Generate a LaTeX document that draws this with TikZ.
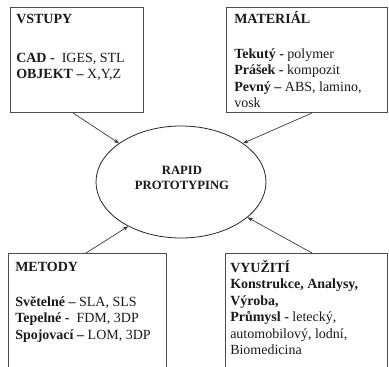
\documentclass[tikz,border=0pt]{standalone}
\usepackage{fontspec}
\setmainfont{Liberation Serif}
\usetikzlibrary{shapes.geometric,arrows.meta}

\tikzset{
  box/.style={draw=black!70, line width=0.75pt, anchor=north west, inner sep=0pt, outer sep=0pt},
  boxtxt/.style={anchor=north west, inner sep=0pt, align=left, text=black!90, font=\fontsize{10.5}{12.4}\selectfont},
  arr/.style={draw=black!80, line width=0.5pt, -{Stealth[length=4pt,width=3pt]}},
}
\newcommand{\topstrut}{\rule{0pt}{10pt}}

\begin{document}
\begin{tikzpicture}[x=0.75pt,y=0.75pt,yscale=-1,xscale=1]
\useasboundingbox (0,0) rectangle (389,367);
\clip (0,0) rectangle (389,367);

%Shape: Rectangle
\node [box, minimum width=99.75pt, minimum height=78.75pt] (vstupy) at (10,8) {};
%Shape: Rectangle
\node [box, minimum width=120.75pt, minimum height=78.75pt] (material) at (226,8) {};
%Shape: Rectangle
\node [box, minimum width=118.5pt, minimum height=89.25pt] (metody) at (8,253) {};
%Shape: Rectangle
\node [box, minimum width=121.5pt, minimum height=89.25pt] (vyuziti) at (225,253) {};
%Shape: Ellipse
\node [ellipse, draw=black!85, line width=0.6pt, minimum width=127.5pt, minimum height=84pt, inner sep=0pt] (rp) at (181,182) {};

%Straight Lines
\draw [arr] ([xshift=-2.6pt]vstupy.south) -- (rp.148);
\draw [arr] ([xshift=4.1pt]material.south) -- (rp.32);
\draw [arr] ([xshift=-0.75pt]metody.north) -- (rp.220);
\draw [arr] ([xshift=4.5pt]vyuziti.north) -- (rp.332);

% Text Node
\node [boxtxt] (vstupytxt) at (16,9.67) {\topstrut\textbf{VSTUPY}\\[16.85pt]
  \textbf{CAD -}~ IGES, STL\\
  \textbf{OBJEKT –} X,Y,Z};
% Text Node
\node [boxtxt] (materialtxt) at (234,9.67) {\topstrut\textbf{MATERIÁL}\\[13.85pt]
  \textbf{Tekutý -} polymer\\
  \textbf{Prášek -} kompozit\\
  \textbf{Pevný –} ABS, lamino,\\
  vosk};
% Text Node
\node [boxtxt] (metodytxt) at (15,257.67) {\topstrut\textbf{METODY}\\[13.85pt]
  \textbf{Světelné –} SLA, SLS\\
  \textbf{Tepelné -}~ FDM, 3DP\\
  \textbf{Spojovací –} LOM, 3DP};
% Text Node
\node [boxtxt] (vyuzititxt) at (230,258.67) {\topstrut\textbf{VYUŽITÍ}\\
  \textbf{Konstrukce, Analysy,}\\
  \textbf{Výroba,}\\
  \textbf{Průmysl -} letecký,\\
  automobilový, lodní,\\
  Biomedicina};
% Text Node
\node [align=center, inner sep=0pt, text=black!90, font=\fontsize{9.5}{11.25}\selectfont\bfseries] (rptxt) at (182,177.5) {RAPID\\PROTOTYPING};

\end{tikzpicture}
\end{document}
